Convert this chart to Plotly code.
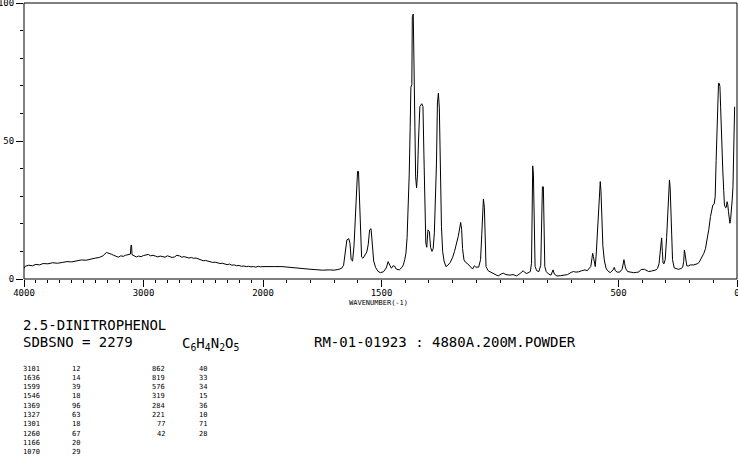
import plotly.graph_objects as go

# ---- spectrum (wavenumber in cm-1, relative intensity) ----
wavenumber = [
    4000, 3990, 3960, 3930, 3900, 3870, 3840, 3800, 3760, 3720, 3680, 3640, 3600, 3560,
    3520, 3480, 3440, 3400, 3370, 3340, 3310, 3290, 3270, 3250, 3230, 3210, 3190, 3170,
    3150, 3130, 3110, 3104, 3100, 3096, 3080, 3060, 3040, 3020, 3000, 2980, 2960, 2940,
    2920, 2900, 2880, 2860, 2840, 2820, 2800, 2780, 2760, 2740, 2720, 2700, 2680, 2660,
    2640, 2620, 2600, 2580, 2560, 2540, 2520, 2500, 2480, 2460, 2440, 2420, 2400, 2380,
    2360, 2340, 2320, 2300, 2280, 2260, 2240, 2220, 2200, 2180, 2160, 2140, 2120, 2100,
    2080, 2060, 2040, 2020, 2000,
    1980, 1950, 1920, 1890, 1860, 1840, 1810, 1780, 1750, 1720, 1700, 1680, 1668, 1660,
    1652, 1646, 1638, 1633, 1628, 1622, 1616, 1610, 1605, 1601, 1597, 1593, 1589, 1584,
    1578, 1570, 1562, 1556, 1550, 1544, 1539, 1533, 1525, 1515, 1505, 1492, 1480, 1472,
    1465, 1458, 1451, 1445, 1438, 1425, 1414, 1408, 1402, 1397, 1392, 1387, 1383, 1379,
    1376, 1372, 1370, 1366, 1363, 1360, 1356, 1352, 1348, 1344, 1338, 1330, 1325, 1321,
    1317, 1313, 1309, 1304, 1298, 1293, 1287, 1282, 1277, 1272, 1268, 1264, 1260, 1256,
    1252, 1247, 1242, 1236, 1228, 1220, 1210, 1200, 1192, 1184, 1176, 1170, 1166, 1162,
    1158, 1152, 1145, 1136, 1126, 1116, 1108, 1102, 1090, 1082, 1077, 1073, 1070, 1066,
    1063, 1059, 1050, 1042, 1030, 1020, 1008, 995, 986, 975, 958, 945, 930, 915,
    902, 895, 887, 878, 872, 867, 865, 862, 859, 856, 852, 845, 836, 828,
    825, 821, 817, 814, 811, 805, 795, 785, 776, 771, 760, 745, 730, 715,
    700, 690, 680, 668, 655, 641, 632, 625, 617, 612, 609, 606, 602, 598,
    594, 590, 585, 580, 577, 574, 570, 566, 560, 553, 546, 535, 523, 518,
    513, 506, 495, 485, 481, 477, 474, 470, 462, 450, 436, 425, 415, 408,
    401, 390, 380, 373, 360, 352, 342, 335, 329, 325, 321, 318, 315, 312,
    308, 303, 297, 292, 288, 285, 282, 279, 276, 272, 265, 255, 246, 236,
    229, 225, 222, 219, 216, 212, 206, 197, 183, 175, 168, 160, 154, 147,
    140, 133, 126, 119, 112, 106, 102, 96, 92, 88, 84, 81, 78, 75,
    72, 69, 67, 63, 60, 56, 53, 48, 45, 42, 39, 36, 33, 30,
    27, 24, 20, 17, 14, 10,
]
intensity = [
    3.8, 4.6, 5.0, 4.8, 5.3, 5.1, 5.6, 5.5, 5.9, 5.7, 6.0, 6.3, 6.2, 6.6,
    6.9, 6.8, 7.3, 7.6, 7.8, 8.4, 9.6, 9.4, 9.0, 8.6, 8.3, 7.9, 8.4, 8.2,
    8.6, 8.9, 9.0, 12.3, 12.2, 8.8, 8.4, 8.0, 8.3, 8.1, 8.5, 8.6, 8.9, 8.4,
    8.6, 8.3, 8.0, 8.3, 8.1, 7.9, 8.4, 8.2, 7.8, 8.0, 8.6, 8.4, 7.9, 8.1,
    7.8, 7.6, 7.8, 7.5, 7.6, 7.2, 6.9, 6.6, 6.7, 6.4, 6.2, 6.0, 6.1, 5.8,
    5.6, 5.7, 5.4, 5.2, 5.4, 5.0, 5.1, 4.8, 4.9, 4.6, 4.7, 4.5, 4.6, 4.4,
    4.5, 4.3, 4.6, 4.4, 4.5,
    4.4, 4.5, 4.5, 4.2, 4.0, 3.9, 3.6, 3.4, 3.2, 3.3, 3.2, 3.5, 3.9, 5.0,
    10.5, 14.2, 14.6, 13.0, 7.0, 6.5, 12.0, 22.0, 33.0, 39.0, 39.0, 28.0, 16.0, 8.0,
    7.5, 8.5, 9.8, 12.5, 17.8, 18.2, 11.0, 6.5, 4.2, 2.8, 2.3, 2.6, 4.0, 6.3,
    5.0, 3.9, 4.8, 4.7, 3.6, 3.3, 4.2, 5.1, 7.0, 9.3, 15.0, 26.0, 38.0, 55.0,
    69.5, 70.5, 95.0, 96.0, 80.0, 55.0, 37.0, 33.0, 38.0, 50.0, 62.5, 63.5, 62.5, 45.0,
    26.0, 13.0, 11.5, 17.8, 17.2, 11.5, 10.0, 11.0, 16.7, 30.0, 42.0, 63.8, 67.3, 62.0,
    40.0, 19.0, 10.0, 6.5, 4.5, 5.0, 6.0, 7.8, 10.0, 12.5, 15.5, 18.5, 20.5, 18.0,
    11.0, 6.9, 6.0, 5.5, 4.6, 3.6, 4.8, 4.3, 4.3, 7.0, 16.0, 26.0, 29.0, 26.0,
    12.0, 4.5, 3.0, 2.6, 1.9, 1.4, 1.1, 1.8, 2.1, 1.6, 1.4, 1.6, 1.1, 2.0,
    3.0, 2.3, 2.0, 2.4, 2.7, 5.7, 30.0, 41.0, 38.0, 17.8, 4.5, 3.0, 2.7, 5.0,
    17.8, 33.4, 33.4, 17.0, 4.5, 2.7, 1.8, 1.4, 3.3, 1.8, 1.1, 1.2, 1.4, 1.6,
    2.4, 2.7, 2.5, 2.6, 3.0, 3.3, 3.0, 3.6, 4.5, 7.5, 9.3, 8.1, 6.5, 4.5,
    9.0, 15.0, 26.0, 33.0, 35.3, 32.0, 22.0, 12.0, 6.9, 4.0, 3.0, 2.3, 3.3, 4.2,
    3.0, 2.5, 2.5, 3.5, 5.1, 7.0, 5.5, 3.9, 2.7, 2.5, 2.3, 2.4, 2.5, 3.2,
    3.5, 3.5, 3.0, 2.7, 2.9, 3.0, 3.3, 3.9, 5.5, 9.0, 14.7, 14.9, 10.0, 5.8,
    5.5, 7.0, 15.0, 25.0, 34.0, 35.9, 33.0, 24.0, 13.0, 7.0, 4.0, 3.6, 3.5, 3.8,
    4.3, 6.3, 10.5, 9.0, 6.5, 4.8, 4.7, 5.1, 5.1, 5.3, 5.5, 6.0, 6.9, 7.8,
    9.3, 11.0, 14.0, 18.0, 22.6, 25.0, 26.8, 27.2, 30.0, 43.0, 56.0, 67.3, 70.9, 70.9,
    69.7, 62.0, 55.0, 46.0, 39.5, 32.0, 26.8, 25.8, 26.0, 28.0, 27.0, 24.4, 22.0, 20.2,
    21.5, 23.9, 29.0, 33.4, 45.0, 62.4,
]

# ---- peak table ----
peak_wn = [3101, 1636, 1599, 1546, 1369, 1327, 1301, 1260, 1166, 1070,
           862, 819, 576, 319, 284, 221, 77, 42]
peak_int = [12, 14, 39, 18, 96, 63, 18, 67, 20, 29,
            40, 33, 34, 15, 36, 10, 71, 28]

# ---- header text ----
compound = "2.5-DINITROPHENOL"
sdbs_no = "SDBSNO = 2279"
formula = "C<sub>6</sub>H<sub>4</sub>N<sub>2</sub>O<sub>5</sub>"
sample = "RM-01-01923 : 4880A.200M.POWDER"
x_title = "WAVENUMBER(-1)"

# ---- tick labels ----
x_left_ticks = [4000, 3000, 2000]
x_right_ticks = [1500, 500, 0]
y_ticks = [0, 50, 100]

# ---- geometry ----
W, H = 738, 457
ML, MR, MT, MB = 24, 1, 3, 178
PW = W - ML - MR
PH = H - MT - MB
split = (263 - ML) / PW


def px(x):
    return (x - ML) / PW


def py(y):
    return (H - MB - y) / PH


left_x = [w for w in wavenumber if w >= 2000]
left_y = [i for w, i in zip(wavenumber, intensity) if w >= 2000]
right_x = [w for w in wavenumber if w <= 2000]
right_y = [i for w, i in zip(wavenumber, intensity) if w <= 2000]

line = dict(color="black", width=1)
fig = go.Figure()
fig.add_trace(go.Scatter(x=left_x, y=left_y, mode="lines", line=line,
                         xaxis="x", yaxis="y", hoverinfo="skip", showlegend=False))
fig.add_trace(go.Scatter(x=right_x, y=right_y, mode="lines", line=line,
                         xaxis="x2", yaxis="y", hoverinfo="skip", showlegend=False))

tickfont = dict(family="DejaVu Sans Mono", size=9, color="black")
common_x = dict(showgrid=False, zeroline=False, showline=False, ticks="outside",
                ticklen=7, tickwidth=1, tickcolor="black", tickfont=tickfont,
                tickmode="array", anchor="y", automargin=False,
                ticklabeloverflow="allow", ticklabelstandoff=-2,
                minor=dict(tick0=0, dtick=100, ticks="outside", ticklen=3,
                           tickwidth=1, tickcolor="black"))

fig.update_layout(
    width=W, height=H,
    margin=dict(l=ML, r=MR, t=MT, b=MB, pad=0, autoexpand=False),
    paper_bgcolor="white", plot_bgcolor="white",
    xaxis=dict(range=[4000, 2000], domain=[0, split],
               tickvals=x_left_ticks, ticktext=[str(v) for v in x_left_ticks], **common_x),
    xaxis2=dict(range=[2000, 0], domain=[split, 1],
                tickvals=x_right_ticks, ticktext=[str(v) for v in x_right_ticks], **common_x),
    yaxis=dict(range=[0, 100], domain=[0, 1], anchor="x", showgrid=False, zeroline=False,
               showline=False, ticks="outside", ticklen=7, tickwidth=1, tickcolor="black",
               tickmode="array", tickvals=y_ticks, ticktext=[str(v) for v in y_ticks],
               tickfont=tickfont, automargin=False, ticklabeloverflow="allow",
               minor=dict(tick0=0, dtick=10, ticks="outside", ticklen=3,
                          tickwidth=1, tickcolor="black")),
    shapes=[dict(type="rect", xref="paper", yref="paper", x0=0, x1=1, y0=0, y1=1,
                 line=dict(color="black", width=1), fillcolor="rgba(0,0,0,0)")],
)

big = dict(family="DejaVu Sans Mono", size=14, color="black")
small = dict(family="DejaVu Sans Mono", size=7, color="black")
ann = []
ann.append(dict(text=x_title, x=px(378), y=py(302.5),
                font=dict(family="DejaVu Sans Mono", size=7, color="black"),
                xanchor="center", yanchor="middle"))
ann.append(dict(text=compound, x=px(21), y=py(325), font=big, xanchor="left", yanchor="middle"))
ann.append(dict(text=sdbs_no, x=px(21), y=py(342), font=big, xanchor="left", yanchor="middle"))
ann.append(dict(text=formula, x=px(180), y=py(344), font=big, xanchor="left", yanchor="middle"))
ann.append(dict(text=sample, x=px(312), y=py(342), font=big, xanchor="left", yanchor="middle"))

row0, dy = 368.5, 9.33
for k, (w, v) in enumerate(zip(peak_wn, peak_int)):
    if k < 10:
        r = k
        xw, xv = 21, 82
        ann.append(dict(text=str(w), x=px(xw), y=py(row0 + r * dy), font=small,
                        xanchor="left", yanchor="middle"))
    else:
        r = k - 10
        xw, xv = 167, 209
        ann.append(dict(text=str(w), x=px(xw), y=py(row0 + r * dy), font=small,
                        xanchor="right", yanchor="middle"))
    ann.append(dict(text=str(v), x=px(xv), y=py(row0 + r * dy), font=small,
                    xanchor="right", yanchor="middle"))

for a in ann:
    a.update(xref="paper", yref="paper", showarrow=False)
fig.update_layout(annotations=ann)

fig.write_html("out.html")
